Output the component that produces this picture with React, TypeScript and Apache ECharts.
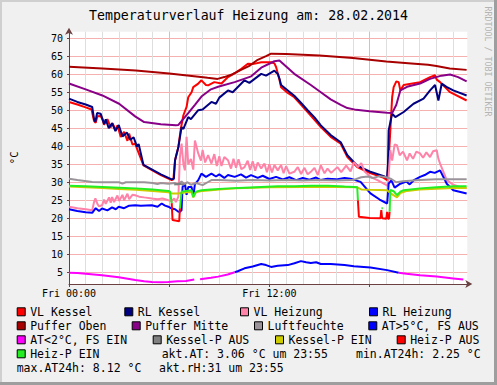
import React, { useEffect, useRef } from 'react';
import * as echarts from 'echarts';

const FONT = 'DejaVu Sans Mono';
const TITLE = 'Temperaturverlauf Heizung am: 28.02.2014';
const X_MIN = 0;
const X_MAX = 23.85;
const Y_MIN = 1.75;
const Y_MAX = 71.8;
const yTickValues = [5, 10, 15, 20, 25, 30, 35, 40, 45, 50, 55, 60, 65, 70];
const xTickLabels: Record<number, string> = { 0: 'Fri 00:00', 12: 'Fri 12:00' };

const vlKessel = [
  [0, 52.3], [0.5, 51.6], [1.0, 50.8], [1.35, 50.2], [1.5, 47.0], [1.6, 46.5], [1.7, 48.3], [1.9, 48.4], [2.0, 47.5], [2.1, 46.0],
  [2.3, 47.5], [2.5, 45.2], [2.6, 46.4], [2.8, 44.5], [2.9, 45.8], [3.1, 42.6], [3.3, 44.0], [3.5, 41.5], [3.6, 43.5], [3.8, 40.5],
  [3.96, 40.7], [4.1, 39.0], [4.46, 34.7], [5.5, 32.0], [6.15, 30.6], [6.25, 30.8], [6.35, 36.1], [6.55, 39.8], [6.7, 45.0], [6.85, 48.6],
  [7.04, 50.9], [7.14, 53.6], [7.34, 55.0], [7.44, 56.4], [7.74, 57.4], [7.93, 58.3], [8.2, 57.0], [8.33, 56.9], [8.7, 57.8], [9.13, 57.4],
  [9.52, 59.2], [10.0, 60.5], [10.32, 61.5], [10.71, 62.9], [11.0, 62.8], [11.51, 63.3], [12.1, 63.3], [12.3, 63.0], [12.4, 62.0], [12.6, 58.5],
  [12.7, 56.4], [13.1, 54.8], [13.49, 53.6], [13.9, 51.5], [14.29, 49.5], [14.7, 47.3], [15.08, 45.3], [15.67, 42.6], [16.27, 40.7], [16.67, 37.0],
  [17.26, 34.2], [18.0, 32.6], [18.85, 31.2], [19.05, 30.6], [19.14, 36.0], [19.24, 44.4], [19.35, 53.6], [19.44, 56.4], [19.6, 58.0], [19.74, 57.8],
  [19.84, 55.5], [20.04, 57.0], [21.02, 57.8], [21.62, 59.2], [21.92, 59.7], [22.02, 58.5], [22.22, 57.8], [22.82, 55.0], [23.81, 52.7],
];

const rlKessel = [
  [0, 53.2], [0.5, 52.3], [1.0, 51.6], [1.39, 50.9], [1.5, 47.5], [1.58, 46.8], [1.68, 49.2], [1.9, 49.0], [2.1, 46.2], [2.2, 47.5],
  [2.38, 45.0], [2.58, 46.4], [2.78, 44.2], [2.98, 45.9], [3.2, 42.7], [3.47, 43.8], [3.67, 41.8], [3.87, 42.5], [4.07, 39.9], [4.17, 40.6],
  [4.46, 34.8], [5.5, 32.2], [6.15, 30.8], [6.28, 31.0], [6.35, 36.1], [6.55, 39.8], [6.74, 45.3], [6.85, 44.8], [7.14, 48.1], [7.3, 47.5],
  [7.74, 50.0], [8.0, 50.2], [8.53, 52.3], [8.8, 51.8], [9.0, 53.5], [9.52, 55.5], [9.8, 55.0], [10.51, 58.3], [10.8, 57.6], [11.51, 60.1],
  [11.8, 59.6], [12.3, 61.0], [12.4, 60.5], [12.5, 60.1], [12.6, 58.8], [12.7, 57.0], [13.1, 55.5], [13.49, 54.0], [13.9, 52.0], [14.29, 50.0],
  [14.7, 48.0], [15.08, 45.8], [15.67, 43.1], [16.27, 41.1], [16.67, 37.5], [17.26, 34.6], [18.0, 33.0], [18.85, 31.7], [19.05, 31.2], [19.1, 35.2],
  [19.14, 44.4], [19.35, 49.0], [19.54, 48.1], [20.04, 49.5], [20.63, 51.8], [21.23, 53.2], [21.62, 55.5], [21.92, 57.0], [22.12, 52.7], [22.32, 57.4],
  [22.6, 56.5], [23.01, 55.5], [23.81, 54.1],
];

const vlHeizung = [
  [0, 23.2], [0.5, 22.8], [1.0, 22.5], [1.39, 22.2], [1.5, 24.5], [1.58, 25.5], [1.7, 24.0], [1.8, 23.3], [1.98, 23.6], [2.1, 25.2],
  [2.2, 24.0], [2.4, 25.8], [2.5, 24.3], [2.58, 25.9], [2.7, 24.5], [2.9, 26.3], [3.0, 24.8], [3.2, 26.5], [3.3, 25.0], [3.5, 26.8],
  [3.6, 25.3], [3.8, 26.5], [3.96, 26.4], [4.2, 26.0], [4.5, 25.8], [4.96, 25.5], [5.3, 25.3], [5.6, 25.5], [5.95, 25.0], [6.15, 24.8],
  [6.3, 25.5], [6.4, 24.5], [6.55, 26.0], [6.64, 37.0], [6.74, 40.7], [6.85, 35.0], [6.94, 33.3], [7.04, 42.6], [7.14, 35.0], [7.3, 36.5],
  [7.44, 33.5], [7.54, 41.6], [7.74, 38.0], [7.9, 36.0], [8.0, 39.0], [8.15, 35.5], [8.33, 37.5], [8.53, 35.2], [8.7, 37.8], [8.85, 34.5],
  [9.0, 37.2], [9.13, 34.5], [9.3, 37.0], [9.52, 36.1], [9.7, 33.8], [9.85, 36.5], [10.0, 34.0], [10.15, 36.4], [10.32, 33.6], [10.51, 34.2],
  [10.7, 36.0], [10.85, 33.4], [11.0, 35.8], [11.15, 33.2], [11.3, 35.5], [11.51, 33.8], [11.7, 35.2], [11.85, 32.8], [12.0, 35.0], [12.15, 32.7],
  [12.3, 34.8], [12.5, 33.3], [12.7, 34.8], [12.85, 32.5], [13.0, 34.5], [13.2, 32.4], [13.49, 32.9], [13.7, 34.2], [13.9, 32.3], [14.1, 34.0],
  [14.29, 32.2], [14.48, 32.9], [14.7, 34.0], [14.9, 32.0], [15.08, 34.7], [15.3, 32.5], [15.48, 33.8], [15.7, 32.6], [16.07, 34.2], [16.3, 32.8],
  [16.6, 34.6], [16.86, 33.0], [17.06, 35.6], [17.3, 34.2], [17.5, 35.3], [17.7, 33.0], [18.05, 31.5], [18.5, 30.5], [18.85, 29.6], [19.1, 29.0],
  [19.24, 38.9], [19.35, 36.0], [19.5, 40.5], [19.64, 40.3], [19.8, 37.5], [20.0, 38.5], [20.24, 36.1], [20.4, 38.0], [20.6, 36.5], [20.8, 38.5],
  [21.02, 38.0], [21.2, 36.8], [21.4, 38.3], [21.62, 37.0], [21.8, 38.6], [22.02, 38.9], [22.12, 36.5], [22.22, 35.2], [22.62, 30.6], [23.0, 29.3],
  [23.41, 28.7], [23.81, 28.3],
];

const rlHeizung = [
  [0, 22.5], [0.5, 22.0], [1.0, 21.7], [1.39, 21.5], [1.6, 22.8], [1.8, 22.0], [1.98, 22.7], [2.3, 22.2], [2.58, 23.0], [2.8, 22.5],
  [2.98, 23.2], [3.3, 22.8], [3.6, 23.5], [3.96, 23.6], [4.3, 23.5], [4.96, 23.6], [5.3, 23.2], [5.55, 24.1], [5.75, 23.5], [5.95, 23.2],
  [6.15, 22.7], [6.35, 22.5], [6.55, 21.8], [6.64, 21.8], [6.74, 22.2], [6.8, 28.7], [6.94, 29.5], [7.04, 26.5], [7.14, 28.7], [7.34, 28.7],
  [7.44, 26.0], [7.54, 29.5], [7.74, 30.6], [7.93, 32.4], [8.2, 31.5], [8.53, 32.4], [8.8, 31.6], [9.0, 32.2], [9.3, 31.2], [9.52, 32.0],
  [9.92, 31.5], [10.3, 32.2], [10.6, 31.3], [10.9, 32.0], [11.3, 31.2], [11.6, 31.8], [12.0, 30.9], [12.4, 31.5], [12.8, 30.8], [13.2, 31.4],
  [13.6, 30.6], [14.0, 31.2], [14.4, 30.7], [14.8, 31.3], [15.08, 30.6], [15.48, 31.0], [16.0, 30.8], [16.5, 31.2], [16.86, 31.0], [17.46, 30.1],
  [18.05, 26.9], [18.6, 25.2], [19.05, 24.1], [19.1, 27.0], [19.14, 29.6], [19.3, 30.5], [19.5, 28.5], [19.84, 29.6], [20.2, 30.2], [20.4, 29.4],
  [20.63, 30.5], [21.02, 31.5], [21.3, 32.0], [21.62, 32.9], [21.9, 32.6], [22.22, 33.3], [22.62, 29.6], [23.01, 27.8], [23.81, 26.9],
];

const pufferOben = [
  [0, 62.1], [2, 61.6], [4, 61.0], [6, 60.2], [8.3, 59.0], [8.9, 58.7], [9.3, 59.2], [9.8, 60.0], [10.3, 61.2], [10.8, 62.3],
  [11.3, 64.0], [11.8, 65.0], [12.1, 65.7], [13, 65.6], [15, 65.2], [17, 64.5], [19, 63.5], [20.5, 63.0], [21.5, 62.6], [22, 62.3],
  [22.8, 61.6], [23.81, 61.2],
];

const pufferMitte = [
  [0, 57.4], [1, 55.8], [2, 54.1], [3, 51.8], [3.96, 48.3], [4.5, 46.7], [5.5, 46.1], [6.4, 45.8], [6.55, 45.9], [7.14, 49.2],
  [7.54, 51.5], [7.93, 53.8], [8.5, 55.8], [8.93, 56.5], [9.92, 57.8], [10.91, 59.4], [11.51, 61.8], [12.3, 63.6], [12.6, 63.8], [13.49, 60.1],
  [14.48, 57.0], [15.08, 55.0], [15.67, 53.0], [16.27, 51.5], [16.67, 50.6], [17.2, 50.1], [18, 49.7], [19.05, 49.3], [19.35, 49.2], [19.6, 51.5],
  [19.84, 55.5], [20.3, 56.6], [21.02, 57.4], [21.62, 58.7], [22.3, 59.6], [22.82, 59.9], [23.3, 59.2], [23.81, 58.0],
];

const luftfeuchte = [
  [0, 31.0], [0.5, 30.6], [1.39, 30.1], [2, 30.0], [3, 30.0], [3.2, 29.6], [3.4, 30.0], [4, 30.0], [4.5, 30.0], [5, 29.8],
  [5.3, 29.5], [5.5, 29.8], [5.95, 29.6], [6.35, 29.8], [6.5, 29.3], [6.74, 30.2], [6.9, 29.5], [7.1, 30.0], [7.3, 29.3], [7.6, 29.8],
  [8.0, 29.2], [8.3, 30.0], [8.53, 30.6], [9, 30.6], [10, 30.4], [11, 30.6], [12, 30.5], [13, 30.6], [14, 30.5], [15, 30.6],
  [16, 30.5], [17, 30.6], [17.5, 31.4], [17.9, 31.6], [18.2, 31.2], [18.6, 31.7], [19.0, 31.4], [19.3, 30.9], [19.6, 30.0], [20, 30.3],
  [21, 30.6], [22, 30.8], [23, 30.8], [23.81, 30.8],
];

const atWarm = [
  [9.92, 5.0], [10.1, 5.3], [10.51, 6.1], [11.0, 6.6], [11.51, 7.3], [11.8, 7.0], [12.1, 6.5], [12.5, 6.8], [13.1, 7.0], [13.5, 7.5],
  [13.89, 8.1], [14.2, 7.8], [14.48, 7.6], [14.8, 7.8], [15.08, 7.3], [15.67, 7.3], [16.5, 7.0], [17.06, 6.7], [18.05, 6.3], [19.05, 5.6],
  [19.74, 4.9],
];

const atCold = [
  [0, 4.9], [0.5, 4.8], [1.0, 4.6], [1.98, 4.2], [2.98, 3.6], [3.96, 2.85], [4.5, 2.5], [4.96, 2.3], [5.5, 2.25], [5.95, 2.3],
  [6.5, 2.5], [7.0, 2.6], [7.5, 3.0], [7.55, null], [7.85, 3.1], [8.5, 3.5], [8.93, 3.8], [9.5, 4.4], [9.92, 5.0], [9.93, null],
  [19.74, 4.9], [20.2, 4.6], [21.02, 4.2], [22.02, 3.8], [23.01, 3.3], [23.61, 3.0],
];

const kesselPAus = [
  [6.3, 29.4], [6.6, 29.6], [6.9, 29.3],
];

const kesselPEin = [
  [0, 28.8], [1, 28.6], [2, 28.4], [3, 28.1], [4, 27.9], [5, 27.6], [5.95, 27.2], [6.15, 26.9], [6.5, 26.9], [6.74, 27.0],
  [7.0, 27.2], [7.34, 27.3], [7.44, 25.8], [7.6, 27.2], [8, 27.6], [9, 28.0], [10, 28.3], [12, 28.6], [14, 28.7], [16, 28.7],
  [17.26, 28.6], [17.5, 28.0], [18, 27.9], [19.05, 27.8], [19.24, 27.0], [19.64, 25.8], [19.84, 27.0], [20.24, 27.6], [21, 28.0], [22, 28.2],
  [23, 28.4], [23.81, 28.4],
];

const heizPAus = [
  [6.15, 24.2], [6.2, 19.5], [6.6, 19.2], [6.64, 22.8], [6.65, null],
  [17.3, 25.0], [17.36, 20.4], [18.0, 20.1], [18.65, 20.0], [18.7, 22.3], [18.75, 20.0], [19.0, 19.9], [19.05, 21.8], [19.1, 19.9], [19.16, 19.9], [19.2, 21.8],
];

const heizPEin = [
  [0, 29.0], [1, 28.9], [2, 28.7], [3, 28.5], [4, 28.3], [5, 28.0], [5.95, 27.6], [6.05, 27.4], [6.15, 24.2], [6.16, null],
  [6.64, 22.8], [6.74, 27.4], [7.0, 27.6], [7.34, 27.8], [7.44, 25.9], [7.6, 27.4], [7.93, 27.8], [8.5, 28.0], [9.52, 28.3], [10.5, 28.5],
  [11.5, 28.7], [12.5, 28.9], [13.5, 28.9], [14.5, 29.0], [15.5, 29.0], [16.5, 28.8], [17.06, 28.7], [17.26, 28.6], [17.3, 25.0], [17.31, null],
  [18.71, 22.8], [18.79, 22.8], [18.8, null],
  [19.2, 21.8], [19.24, 27.9], [19.44, 27.5], [19.64, 26.4], [19.84, 27.4], [20.04, 27.8], [21.02, 28.3], [22, 28.6], [23.01, 28.9], [23.81, 28.9],
];

const seriesDefs: [string, string, (number | null)[][]][] = [
  ['VL Kessel', '#ff0000', vlKessel],
  ['RL Kessel', '#000080', rlKessel],
  ['VL Heizung', '#ff82a8', vlHeizung],
  ['RL Heizung', '#0000ff', rlHeizung],
  ['Puffer Oben', '#a80000', pufferOben],
  ['Puffer Mitte', '#880088', pufferMitte],
  ['Luftfeuchte', '#9a949a', luftfeuchte],
  ['AT>5°C, FS AUS', '#0000ff', atWarm],
  ['AT<2°C, FS EIN', '#ff00ff', atCold],
  ['Kessel-P AUS', '#808080', kesselPAus],
  ['Kessel-P EIN', '#cccc00', kesselPEin],
  ['Heiz-P AUS', '#ff0000', heizPAus],
  ['Heiz-P EIN', '#22ee22', heizPEin],
];

// legend layout: name, box left, row centre y
const legendLayout: [string, number, number][] = [
  ['VL Kessel', 16.7, 311.3], ['RL Kessel', 124.3, 311.3], ['VL Heizung', 240, 311.3], ['RL Heizung', 369, 311.3],
  ['Puffer Oben', 16.7, 325.3], ['Puffer Mitte', 131.7, 325.3], ['Luftfeuchte', 254, 325.3], ['AT>5°C, FS AUS', 368.3, 325.3],
  ['AT<2°C, FS EIN', 16.7, 339.3], ['Kessel-P AUS', 152.7, 339.3], ['Kessel-P EIN', 275, 339.3], ['Heiz-P AUS', 396.7, 339.3],
  ['Heiz-P EIN', 16.7, 353.3],
];

const infoTexts: [string, number, number][] = [
  ['akt.AT: 3.06 °C um 23:55', 161.7, 354],
  ['min.AT24h: 2.25 °C', 356, 354],
  ['max.AT24h: 8.12 °C', 16.7, 367.5],
  ['akt.rH:31 um 23:55', 159, 367.5],
];

const WATERMARK = 'RRDTOOL / TOBI OETIKER';

export default function App() {
  const ref = useRef<HTMLDivElement>(null);
  useEffect(() => {
    if (!ref.current) return;
    const chart = echarts.init(ref.current, undefined, { renderer: 'svg' });
    const axisColor = '#6a4040';
    const option: any = {
      animation: false,
      backgroundColor: '#f0f0f0',
      textStyle: { fontFamily: FONT },
      title: {
        text: TITLE,
        left: 'center',
        top: 9,
        padding: 0,
        textStyle: { fontFamily: FONT, fontSize: 13.25, fontWeight: 'normal', color: '#000' },
      },
      grid: {
        left: 66.7,
        top: 31.7,
        width: 400.6,
        height: 252.3,
        show: true,
        backgroundColor: '#ffffff',
        borderWidth: 0,
        containLabel: false,
      },
      legend: legendLayout.map(([name, left, cy]) => ({
        data: [name],
        left,
        top: cy - 5.5,
        padding: 0,
        icon: 'rect',
        itemWidth: 8,
        itemHeight: 8,
        selectedMode: false,
        itemStyle: { borderColor: '#000', borderWidth: 1 },
        textStyle: { fontFamily: FONT, fontSize: 11.5, color: '#000' },
      })),
      xAxis: [
        {
          type: 'value',
          min: X_MIN,
          max: X_MAX,
          interval: 1,
          position: 'bottom',
          axisLine: { show: false },
          axisTick: { show: false },
          axisLabel: { show: false },
          splitLine: { show: true, showMaxLine: false, lineStyle: { color: '#dedede', width: 1 } },
        },
        {
          type: 'value',
          min: X_MIN,
          max: X_MAX,
          interval: 6,
          position: 'bottom',
          axisLine: {
            show: true,
            lineStyle: { color: axisColor, width: 1 },
            symbol: ['none', 'arrow'],
            symbolSize: [6, 7],
            symbolOffset: [0, 5],
          },
          axisTick: { show: true, length: 3, lineStyle: { color: axisColor } },
          axisLabel: {
            show: true,
            margin: 4,
            color: '#000',
            fontFamily: FONT,
            fontSize: 10,
            showMaxLabel: false,
            formatter: (v: number) => xTickLabels[v] ?? '',
          },
          splitLine: { show: true, showMaxLine: false, lineStyle: { color: '#f5b0b0', width: 1 } },
        },
      ],
      yAxis: {
        type: 'value',
        min: Y_MIN,
        max: Y_MAX,
        name: '°C',
        nameLocation: 'middle',
        nameGap: 50,
        nameRotate: 90,
        nameTextStyle: { fontFamily: FONT, fontSize: 10.5, color: '#000' },
        axisLine: {
          show: true,
          lineStyle: { color: axisColor, width: 1 },
          symbol: ['none', 'arrow'],
          symbolSize: [6, 7],
          symbolOffset: [0, 4],
        },
        axisTick: { show: true, length: 2, customValues: yTickValues, lineStyle: { color: axisColor } },
        axisLabel: {
          show: true,
          customValues: yTickValues,
          margin: 6,
          color: '#000',
          fontFamily: FONT,
          fontSize: 10,
        },
        splitLine: { show: true, lineStyle: { color: '#f5b0b0', width: 1 } },
      },
      series: seriesDefs.map(([name, color, data]) => ({
        name,
        type: 'line',
        xAxisIndex: 0,
        yAxisIndex: 0,
        data,
        showSymbol: false,
        symbol: 'none',
        connectNulls: false,
        clip: true,
        color,
        itemStyle: { color },
        lineStyle: { color, width: 2 },
      })),
      graphic: [
        { type: 'rect', shape: { x: 0, y: 0, width: 497, height: 2 }, style: { fill: '#cfcfcf' }, silent: true },
        { type: 'rect', shape: { x: 0, y: 0, width: 2, height: 385 }, style: { fill: '#cfcfcf' }, silent: true },
        { type: 'rect', shape: { x: 494, y: 0, width: 3, height: 385 }, style: { fill: '#9e9e9e' }, silent: true },
        { type: 'rect', shape: { x: 0, y: 382, width: 497, height: 3 }, style: { fill: '#9e9e9e' }, silent: true },
        {
          type: 'text',
          x: 487.5,
          y: 6.5,
          rotation: -Math.PI / 2,
          silent: true,
          style: { text: WATERMARK, fill: '#b4b4b4', font: `8.3px "${FONT}"`, textAlign: 'left', textVerticalAlign: 'middle' },
        },
        ...infoTexts.map(([text, x, y]) => ({
          type: 'text',
          x,
          y,
          silent: true,
          style: { text, fill: '#000', font: `11.5px "${FONT}"`, textAlign: 'left', textVerticalAlign: 'middle' },
        })),
      ],
    };
    chart.setOption(option);
    return () => chart.dispose();
  }, []);
  return (
    <div
      ref={ref}
      style={{ position: 'fixed', left: 0, top: 0, width: 497, height: 385 }}
    />
  );
}
